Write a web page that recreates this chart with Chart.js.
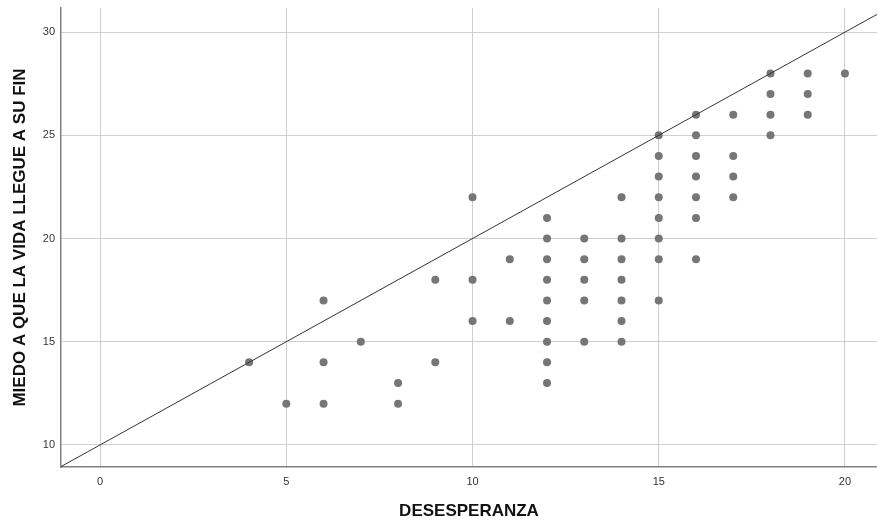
<!DOCTYPE html>
<html>
<head>
<meta charset="utf-8">
<script src="https://cdn.jsdelivr.net/npm/chart.js@4.4.1/dist/chart.umd.min.js"></script>
<style>
  html, body { margin: 0; padding: 0; background: #fff; }
  #wrap { width: 877px; height: 525px; }
</style>
</head>
<body>
<div id="wrap"><canvas id="chart" width="877" height="525"></canvas></div>
<script>
// DESESPERANZA (x) vs MIEDO A QUE LA VIDA LLEGUE A SU FIN (y)
const desesperanza = [
  4, 5, 6, 6, 6, 7, 8, 8, 9, 9, 10, 10, 10, 11, 11,
  12, 12, 12, 12, 12, 12, 12, 12, 12,
  13, 13, 13, 13, 13,
  14, 14, 14, 14, 14, 14, 14,
  15, 15, 15, 15, 15, 15, 15, 15,
  16, 16, 16, 16, 16, 16, 16,
  17, 17, 17, 17,
  18, 18, 18, 18,
  19, 19, 19,
  20
];
const miedo = [
  14, 12, 17, 14, 12, 15, 13, 12, 18, 14, 22, 18, 16, 19, 16,
  21, 20, 19, 18, 17, 16, 15, 14, 13,
  20, 19, 18, 17, 15,
  22, 20, 19, 18, 17, 16, 15,
  25, 24, 23, 22, 21, 20, 19, 17,
  26, 25, 24, 23, 22, 21, 19,
  26, 24, 23, 22,
  28, 27, 26, 25,
  28, 27, 26,
  28
];
// reference line across the plot
const refLineX = [-1.05, 20.86];
const refLineY = [8.95, 30.86];

const xTicks = [0, 5, 10, 15, 20];
const yTicks = [10, 15, 20, 25, 30];

const FONT = "'Liberation Sans Narrow', 'Liberation Sans', Arial, sans-serif";
const TITLE_FONT = "'Liberation Sans', Arial, sans-serif";

const scatterPts = desesperanza.map((x, i) => ({ x, y: miedo[i] }));
const linePts = refLineX.map((x, i) => ({ x, y: refLineY[i] }));

new Chart(document.getElementById('chart'), {
  type: 'scatter',
  data: {
    datasets: [
      {
        type: 'line', data: linePts, borderColor: '#333333', borderWidth: 1,
        pointRadius: 0, fill: false, order: 0
      },
      {
        data: scatterPts, backgroundColor: '#767676', borderColor: '#767676',
        pointRadius: 4, pointHoverRadius: 4, borderWidth: 0, order: 1
      }
    ]
  },
  options: {
    responsive: false, animation: false,
    layout: { autoPadding: false, padding: { top: 8, right: 0, left: 0, bottom: 0 } },
    plugins: { legend: { display: false }, tooltip: { enabled: false } },
    scales: {
      x: {
        type: 'linear', min: -1.05, max: 20.86,
        afterFit: s => { s.height = 58; s.paddingLeft = 0; s.paddingRight = 0; },
        afterBuildTicks: s => { s.ticks = xTicks.map(v => ({ value: v })); },
        ticks: { color: '#333', padding: 8, font: { family: FONT, size: 11 }, includeBounds: false },
        grid: { color: '#cfcfcf', lineWidth: 1, drawTicks: false },
        border: { color: '#808080', width: 1.5 },
        title: {
          display: true, text: 'DESESPERANZA', color: '#111',
          font: { family: TITLE_FONT, size: 17, weight: 'bold' }, padding: { top: 0, bottom: 3 }
        }
      },
      y: {
        type: 'linear', min: 8.93, max: 31.17,
        afterFit: s => { s.width = 61; s.paddingTop = 0; s.paddingBottom = 0; },
        afterBuildTicks: s => { s.ticks = yTicks.map(v => ({ value: v })); },
        ticks: { color: '#333', padding: 6, font: { family: FONT, size: 11 }, includeBounds: false },
        grid: { color: '#cfcfcf', lineWidth: 1, drawTicks: false },
        border: { color: '#808080', width: 1.5 },
        title: {
          display: true, text: 'MIEDO A QUE LA VIDA LLEGUE A SU FIN', color: '#111',
          font: { family: TITLE_FONT, size: 17, weight: 'bold' }, padding: { top: 10, bottom: 0 }
        }
      }
    }
  }
});
</script>
</body>
</html>
